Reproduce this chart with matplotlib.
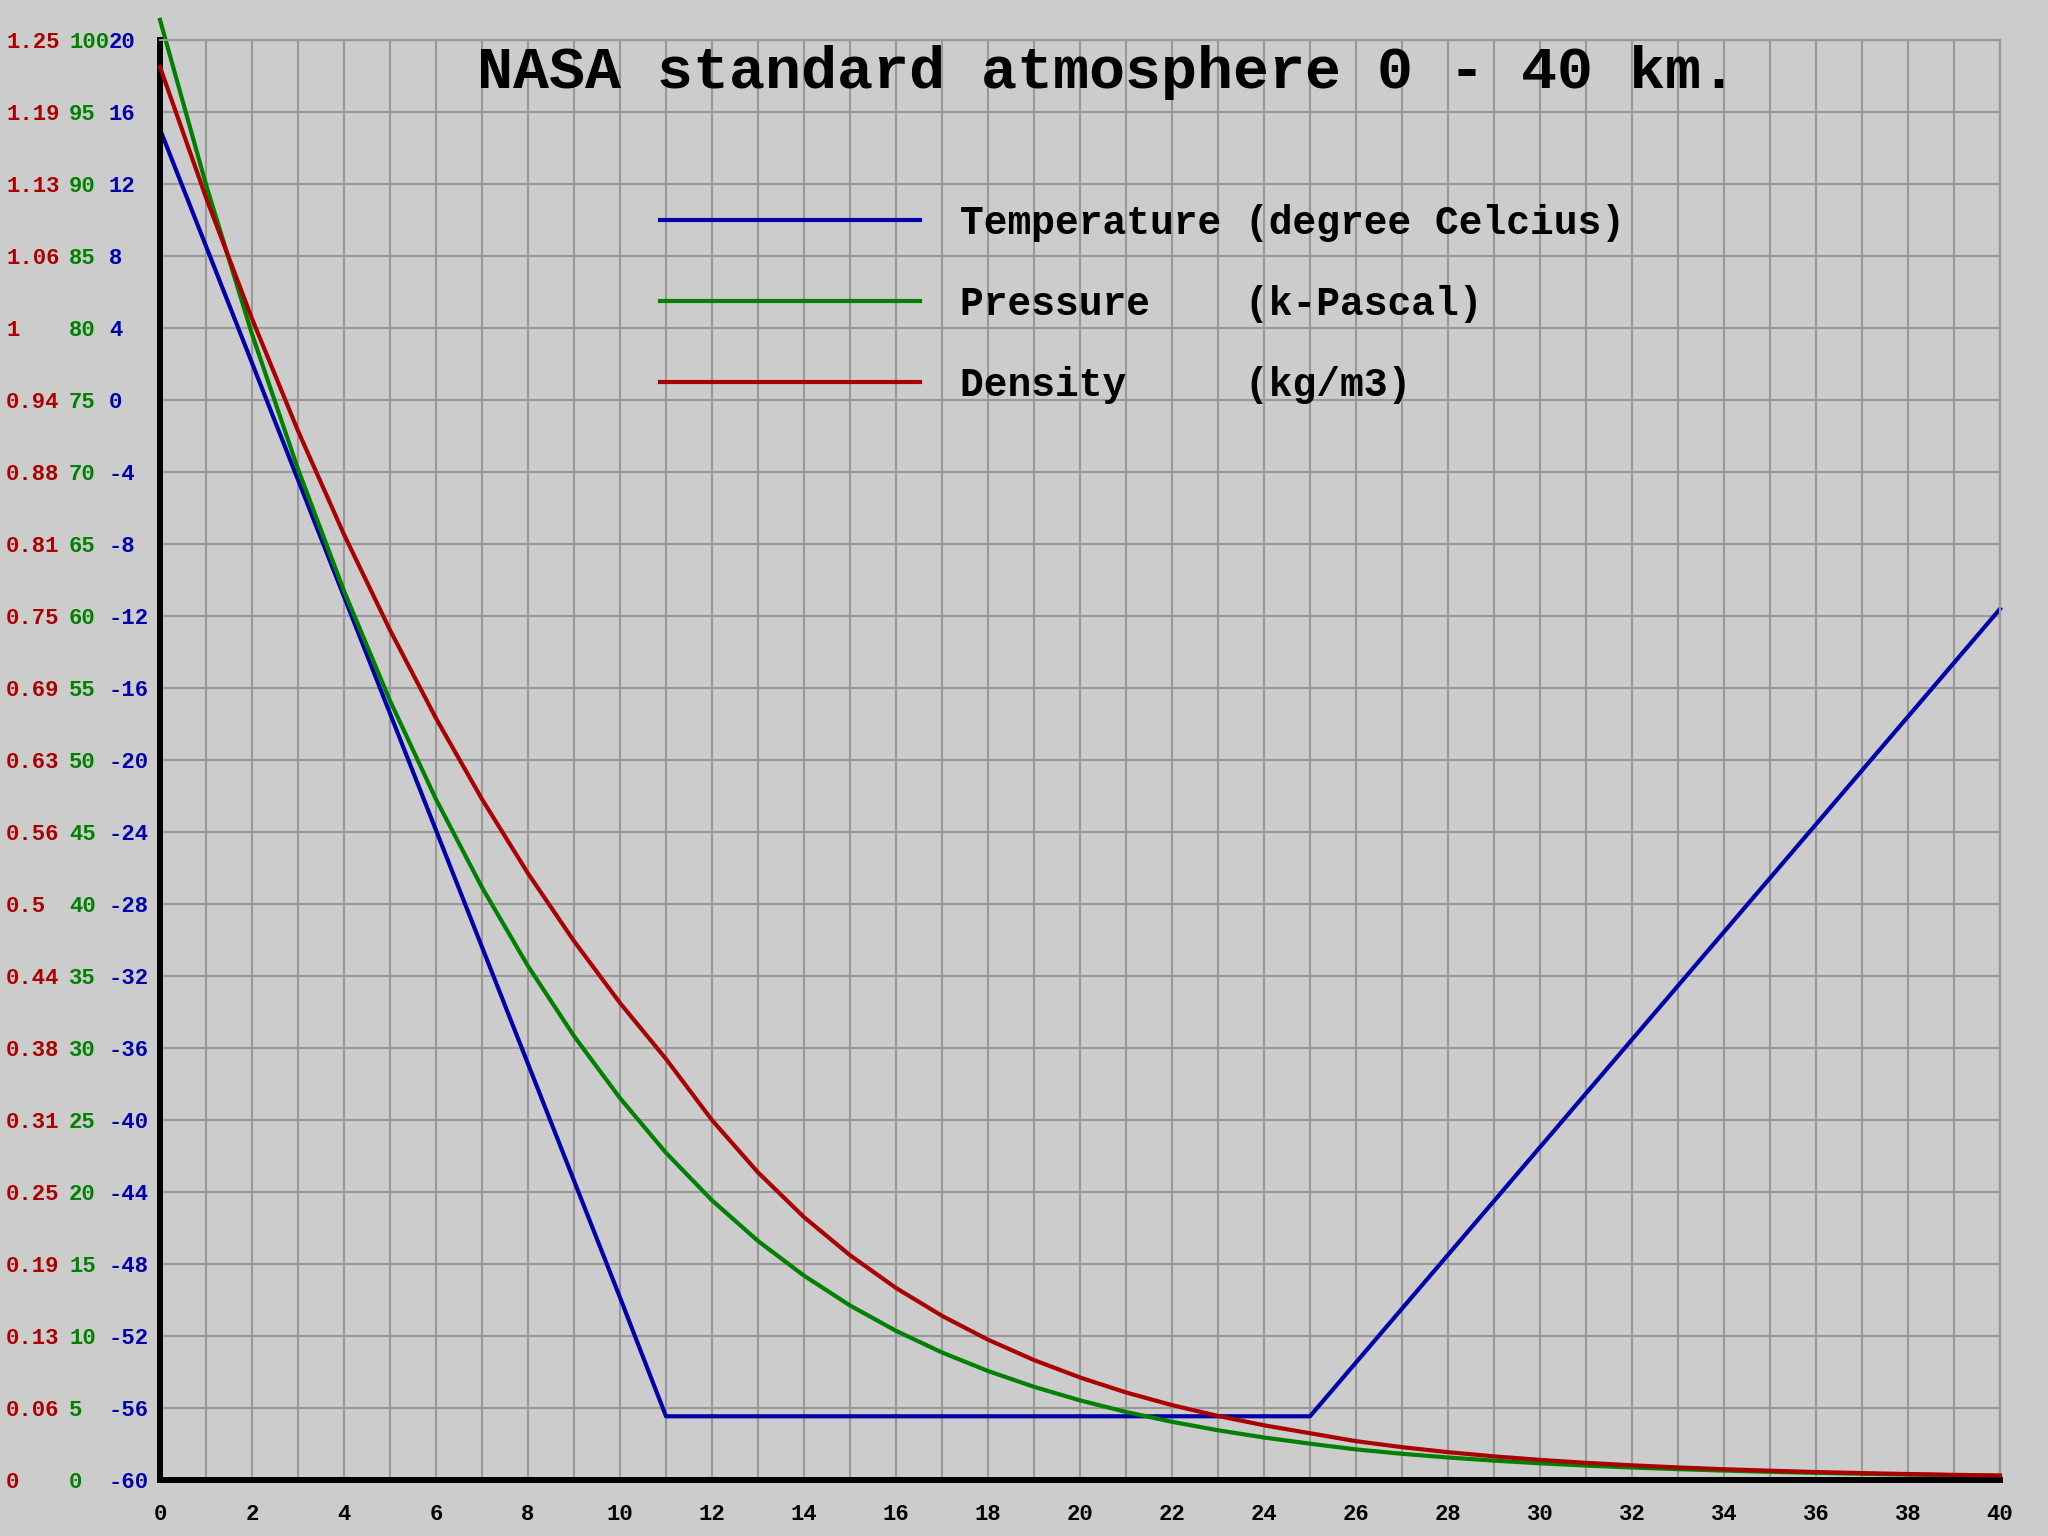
import matplotlib
matplotlib.use("Agg")
import matplotlib.pyplot as plt
from matplotlib.lines import Line2D

# ---- data (altitude in km) ----
altitude_km = list(range(0, 41))
temperature_c = [15.04, 8.55, 2.06, -4.43, -10.92, -17.41, -23.90, -30.39, -36.88, -43.37,
                 -49.86, -56.46, -56.46, -56.46, -56.46, -56.46, -56.46, -56.46, -56.46, -56.46,
                 -56.46, -56.46, -56.46, -56.46, -56.46, -56.46, -53.47, -50.48, -47.49, -44.50,
                 -41.51, -38.52, -35.53, -32.54, -29.55, -26.56, -23.57, -20.58, -17.59, -14.60,
                 -11.61]
pressure_kpa = [101.40, 89.96, 79.58, 70.20, 61.74, 54.12, 47.27, 41.15, 35.69, 30.83,
                26.52, 22.72, 19.42, 16.60, 14.19, 12.12, 10.36, 8.857, 7.570, 6.470,
                5.530, 4.726, 4.040, 3.453, 2.951, 2.522, 2.124, 1.821, 1.564, 1.346,
                1.161, 1.003, 0.8686, 0.7533, 0.6544, 0.5695, 0.4964, 0.4334, 0.3791, 0.3320,
                0.2913]
density_kgm3 = [1.2266, 1.1133, 1.0081, 0.9107, 0.8208, 0.7378, 0.6612, 0.5910, 0.5266, 0.4678,
                0.4141, 0.3655, 0.3124, 0.2670, 0.2282, 0.1951, 0.1667, 0.1425, 0.1218, 0.1041,
                0.0890, 0.0760, 0.0650, 0.0556, 0.0475, 0.0406, 0.03371, 0.02851, 0.02416, 0.02052,
                0.01747, 0.01490, 0.01274, 0.01091, 0.00937, 0.00805, 0.00693, 0.00598, 0.00517, 0.00448,
                0.00388]

temp_ticks = list(range(-60, 21, 4))
temp_labels = [str(v) for v in temp_ticks]
pressure_ticks = list(range(0, 101, 5))
pressure_labels = [str(v) for v in pressure_ticks]
density_ticks = [i * 0.0625 for i in range(21)]
density_labels = ["0", "0.06", "0.13", "0.19", "0.25", "0.31", "0.38", "0.44", "0.5", "0.56",
                  "0.63", "0.69", "0.75", "0.81", "0.88", "0.94", "1", "1.06", "1.13", "1.19", "1.25"]
x_ticks = list(range(0, 41, 2))
x_labels = [str(v) for v in x_ticks]

title = "NASA standard atmosphere 0 - 40 km."
legend_labels = ["Temperature (degree Celcius)", "Pressure    (k-Pascal)", "Density     (kg/m3)"]

BLUE = "#0000AA"
GREEN = "#008000"
RED = "#AA0000"
BG = "#CCCCCC"
GRID = "#999999"
FONT = "Liberation Mono"

W, H = 2048, 1536
fig = plt.figure(figsize=(W / 100, H / 100), dpi=100, facecolor=BG)
L, T, R, B = 160, 40, 2000, 1480
ax = fig.add_axes([L / W, 1 - B / H, (R - L) / W, (B - T) / H])
ax.set_facecolor(BG)
ax2 = ax.twinx()
ax3 = ax.twinx()

ax.set_xlim(0, 40)
ax.set_ylim(-60, 20)
ax2.set_ylim(0, 100)
ax3.set_ylim(0, 1.25)

# grid
ax.set_xticks(x_ticks)
ax.set_xticks(altitude_km, minor=True)
ax.set_xticklabels(x_labels)
ax.grid(True, which="both", axis="x", color=GRID, linewidth=1.5)
ax.grid(True, which="major", axis="y", color=GRID, linewidth=1.5)
ax.set_axisbelow(True)

for a in (ax, ax2, ax3):
    a.spines["top"].set_color(GRID)
    a.spines["right"].set_color(GRID)
    a.spines["top"].set_linewidth(1.5)
    a.spines["right"].set_linewidth(1.5)
    a.spines["left"].set_color("black")
    a.spines["bottom"].set_color("black")
    a.spines["left"].set_linewidth(4.3)
    a.spines["bottom"].set_linewidth(4.3)

ax.tick_params(axis="x", which="both", length=0, pad=17)
for lab in ax.get_xticklabels():
    lab.set_fontfamily(FONT)
    lab.set_fontweight("bold")
    lab.set_fontsize(16)
    lab.set_color("black")

# y tick labels in three columns
def set_yticks(a, ticks, labels, color, pad_px):
    a.yaxis.tick_left()
    a.set_yticks(ticks)
    a.set_yticklabels(labels)
    a.tick_params(axis="y", length=0, pad=pad_px * 72 / 100)
    for lab in a.get_yticklabels():
        lab.set_fontfamily(FONT)
        lab.set_fontweight("bold")
        lab.set_fontsize(16)
        lab.set_color(color)
        lab.set_horizontalalignment("left")

set_yticks(ax3, density_ticks, density_labels, RED, L - 6)
set_yticks(ax2, pressure_ticks, pressure_labels, GREEN, L - 69)
set_yticks(ax, temp_ticks, temp_labels, BLUE, L - 109)

lw = 3.0
ax.plot(altitude_km, temperature_c, color=BLUE, linewidth=lw, clip_on=False, zorder=5)
ax2.plot(altitude_km, pressure_kpa, color=GREEN, linewidth=lw, clip_on=False, zorder=5)
ax3.plot(altitude_km, density_kgm3, color=RED, linewidth=lw, clip_on=False, zorder=5)

# title
fig.text(1107 / W, 1 - 72 / H, title, ha="center", va="center",
         fontfamily=FONT, fontweight="bold", fontsize=43.2, color="black")

# legend
handles = [Line2D([], [], color=c, linewidth=lw) for c in (BLUE, GREEN, RED)]
fs = 28.5
fs_px = fs * 100 / 72
leg = ax3.legend(handles, legend_labels, loc="upper left",
                 bbox_to_anchor=(660 / W, 1 - 204 / H), bbox_transform=fig.transFigure,
                 frameon=False, borderpad=0, borderaxespad=0,
                 handlelength=260 / fs_px, handletextpad=40 / fs_px, labelspacing=1.08,
                 prop={"family": FONT, "weight": "bold", "size": fs})

fig.savefig("out.png", dpi=100, facecolor=BG)
